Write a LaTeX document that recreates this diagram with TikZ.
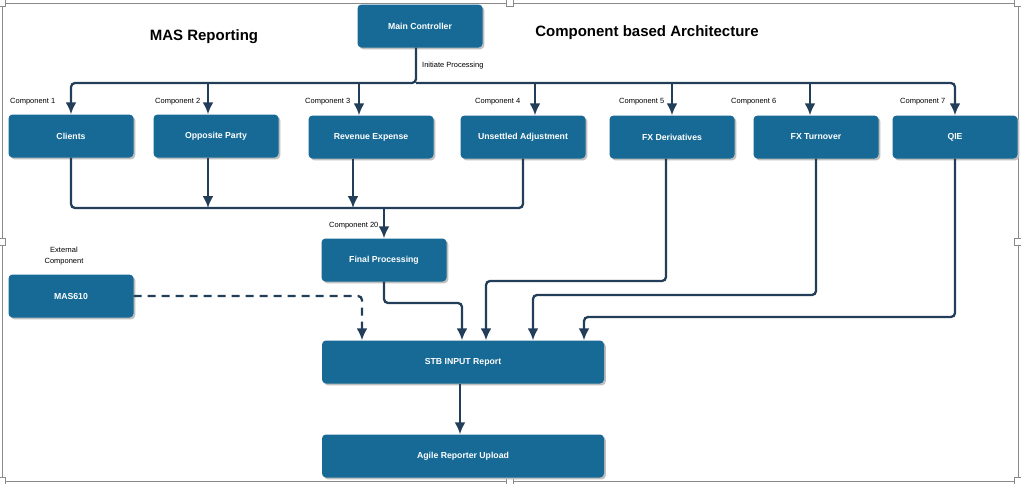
\documentclass[tikz,border=0pt]{standalone}
\usepackage{fontspec}
\setmainfont{Liberation Sans}
\usepackage{tikz}
\usetikzlibrary{shapes,calc,arrows.meta,positioning,shadows}
\definecolor{boxblue}{HTML}{166A95}
\definecolor{linenavy}{HTML}{233E59}
\definecolor{framegray}{HTML}{8A8A8A}
\tikzstyle{comp} = [draw=none, fill=boxblue, rounded corners=4pt, minimum width=125pt, minimum height=43pt, text=white, font=\fontsize{8.7}{10}\selectfont\bfseries, drop shadow={shadow xshift=1.8pt, shadow yshift=-1.8pt, fill=black!25, opacity=1}]
\tikzstyle{wide} = [comp, minimum width=282pt]
\tikzstyle{conn} = [draw=linenavy, line width=2.3pt, rounded corners=4pt]
\tikzstyle{arrow} = [conn, -{Latex[length=12pt,width=11pt]}]
\tikzstyle{lbl} = [font=\fontsize{7.5}{9}\selectfont, inner sep=0pt, anchor=west]
\tikzstyle{headline} = [font=\fontsize{15}{18}\selectfont\bfseries, inner sep=0pt]
\tikzstyle{handle} = [draw=framegray, fill=white, line width=0.6pt, minimum size=7pt, inner sep=0pt]

\begin{document}
\begin{tikzpicture}[x=1pt, y=-1pt]
      \useasboundingbox (0,0) rectangle (1021,483);
      \draw[framegray, line width=0.8pt] (2,3) rectangle (1018,481);
      \foreach \hx/\hy in {2/3, 510/3, 1018/3, 2/242, 1018/242, 2/481, 510/481, 1018/481}
        \node[handle] at (\hx,\hy) {};
      \node[headline] (ttlmas) at (204,37) {MAS Reporting};
      \node[headline] (ttlarch) at (647,33) {Component based Architecture};
      \node[comp] (main) at (420,26) {Main Controller};
      \node[comp] (clients) at (71,136) {Clients};
      \node[comp] (opp) at (216,136) {Opposite Party};
      \node[comp] (rev) at (371,137) {Revenue Expense};
      \node[comp] (unset) at (523,137) {Unsettled Adjustment};
      \node[comp] (fxd) at (672,137) {FX Derivatives};
      \node[comp] (fxt) at (816,137) {FX Turnover};
      \node[comp] (qie) at (955,137) {QIE};
      \node[comp] (fin) at (384,260) {Final Processing};
      \node[comp] (mas) at (71,296) {MAS610};
      \node[wide] (stb) at (463,362) {STB INPUT Report};
      \node[wide] (agile) at (463,456) {Agile Reporter Upload};
      \node[lbl] (init) at (422,66) {Initiate Processing};
      \foreach \cx/\cn in {10/1, 155/2, 305/3, 475/4, 619/5, 731/6, 900/7}
        \node[lbl] (lbl\cn) at (\cx,102) {Component \cn};
      \node[lbl] (lbl20) at (329,226) {Component 20};
      \node[lbl, anchor=center, align=center] (ext) at (64,256) {External\\[2pt]Component};
      \coordinate (bus) at ([xshift=-4pt]main.south |- 0,83);
      \coordinate (join) at (fin.north |- 0,208);
      \draw[arrow] ([xshift=-4pt]main.south) -- (bus) -| (clients.north);
      \draw[arrow] (bus) -| (qie.north);
      \foreach \n/\dx in {opp/-8, rev/-12, unset/12, fxd/0, fxt/-6}
        \draw[arrow] ([xshift=\dx pt]\n.north |- bus) -- ([xshift=\dx pt]\n.north);
      \draw[conn] (clients.south) |- (join) -| (unset.south);
      \draw[arrow] ([xshift=-8pt]opp.south) -- ([xshift=-8pt]opp.south |- join);
      \draw[arrow] ([xshift=-18pt]rev.south) -- ([xshift=-18pt]rev.south |- join);
      \draw[arrow] (join) -- (fin.north);
      \draw[arrow] (fin.south) |- ([xshift=-1pt]stb.north |- 0,303) -- ([xshift=-1pt]stb.north);
      \draw[arrow] ([xshift=-6pt]fxd.south) |- ([xshift=23pt]stb.north |- 0,281) -- ([xshift=23pt]stb.north);
      \draw[arrow] (fxt.south) |- ([xshift=70pt]stb.north |- 0,295) -- ([xshift=70pt]stb.north);
      \draw[arrow] (qie.south) |- ([xshift=121pt]stb.north |- 0,317) -- ([xshift=121pt]stb.north);
      \draw[arrow, dash pattern=on 8pt off 6pt] (mas.east) -| ([xshift=-101pt]stb.north);
      \draw[arrow] ([xshift=-3pt]stb.south) -- ([xshift=-3pt]agile.north);
    \end{tikzpicture}
\end{document}
